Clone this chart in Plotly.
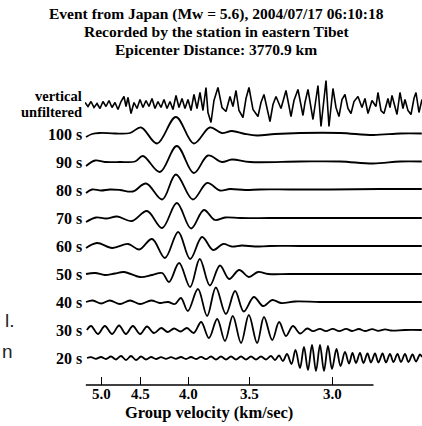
import plotly.graph_objects as go

# ---------------- data ----------------
DIST_KM = 3770.9
VEL_TICKS = [5.0, 4.5, 4.0, 3.5, 3.0]
VEL_TICK_TEXT = ["5.0", "4.5", "4.0", "3.5", "3.0"]
PERIOD_LABELS = ["100 s", "90 s", "80 s", "70 s", "60 s", "50 s", "40 s", "30 s", "20 s"]

# travel time (s) and relative amplitude
UNF_T = [717.8, 724.3, 730.9, 737.4, 744.0, 750.5, 757.0, 763.6, 770.1, 776.7, 783.2, 789.7, 796.3, 802.8, 807.2,
         811.5, 818.1, 824.6, 831.2, 837.7, 844.2, 850.8, 857.3, 863.9, 870.4, 876.9, 883.5, 890.0, 896.6, 903.1,
         909.6, 916.2, 922.7, 929.3, 935.8, 942.3, 948.9, 955.4, 962.0, 968.5, 975.0, 981.6, 985.9, 992.5, 999.0,
         1007.7, 1016.5, 1025.2, 1033.9, 1040.4, 1047.0, 1053.5, 1062.2, 1068.8, 1075.3, 1084.0, 1094.9, 1101.5,
         1108.0, 1114.6, 1121.1, 1127.6, 1134.2, 1145.1, 1149.4, 1156.0, 1166.9, 1173.4, 1182.1, 1193.0, 1197.4,
         1203.9, 1214.8, 1225.7, 1232.3, 1238.8, 1243.2, 1249.7, 1258.4, 1265.0, 1271.5, 1278.1, 1284.6, 1291.1,
         1297.7, 1304.2, 1312.9, 1321.7, 1328.2, 1334.7, 1343.5, 1352.2, 1356.5, 1363.1, 1369.6, 1378.3, 1382.7,
         1387.1, 1393.6, 1398.0, 1404.5, 1411.0, 1415.4, 1421.9, 1428.5, 1435.0, 1439.4, 1445.9, 1452.5]
UNF_A = [2, -2, 3, -3, 1, -4, 3, -2, 4, -3, 2, -5, 3, 8, -2, 7, -9, 2, -4, 5, -3, 4, -2, 6, -4, 3, -3, 5, -4, 3,
         -5, 9, -3, 6, -4, 5, -6, 10, -4, 12, -6, 17, -8, -18, 4, 17, -3, -7, 8, -2, 14, -6, -13, 6, 17, -5, -12,
         2, 10, -4, -17, 0, 8, -4, 3, 14, -12, 4, 15, -11, 2, 15, -15, 19, -22, 10, 24, -22, 16, -3, -12, 5, 10,
         -4, -9, 3, 8, -3, 6, -9, 4, -2, 12, -6, -9, 6, -3, 9, -4, -10, 12, -4, 5, -6, -10, 6, 12, -8, 5]

P100_T = [720, 733, 750, 783, 816, 840, 875, 916, 955, 990, 1016, 1038, 1067, 1093, 1132, 1187, 1274, 1346, 1405, 1452]
P100_A = [-3, 0, 1, 0.5, 1, 6.5, -9.5, 17, -9.5, 6.5, 1, 3, 0, -1.5, 0, 1, 1, -1, 0.5, 0.5]

P90_T = [720, 740, 761, 794, 827, 844, 881, 918, 955, 986, 1016, 1038, 1078, 1187, 1274, 1346, 1405, 1452]
P90_A = [-4, 1.5, 0, 0, 0.5, 6, -10, 16, -11, 6.5, 0, 2.5, 0, 0.5, 0.5, -1.5, 0.5, 0.5]

P80_T = [720, 733, 753, 772, 794, 822, 851, 886, 916, 953, 984, 1012, 1034, 1067, 1099, 1165, 1252, 1361, 1452]
P80_A = [-3, 0.5, -0.5, 0.5, 0, -1.5, 6.5, -9.5, 15.5, -9.5, 7, -0.5, 1, 0, 0.5, 0.5, 0.5, 1, 1]

P70_T = [720, 742, 764, 788, 820, 853, 886, 918, 949, 977, 1001, 1023, 1056, 1121, 1230, 1339, 1452]
P70_A = [-4, 0.5, -0.5, 1.5, -3, 7, -10, 15, -10.5, 8, -2, 0.5, 0, 0, 0, 0, 0]

P60_T = [720, 744, 777, 812, 836, 864, 892, 921, 947, 973, 997, 1019, 1038, 1060, 1088, 1121, 1187, 1296, 1452]
P60_A = [-2, 3, -2, 2, -3.5, 7, -12, 14, -13, 9, -4, 2, -0.5, 0.5, -0.5, 0, 0, 0, 0]

P50_T = [720, 740, 761, 783, 803, 838, 864, 886, 901, 923, 947, 968, 990, 1012, 1032, 1054, 1075, 1095, 1117,
         1165, 1274, 1452]
P50_A = [0, 1, -1, 0.5, 2, -3, -1, 1, -8, 11, -13, 15, -11.5, 8.5, -5, 4, -3, 2, 0, 0, 0, 0]

P40_T = [720, 735, 753, 772, 794, 816, 838, 862, 881, 899, 914, 927, 942, 964, 984, 1003, 1025, 1045, 1064,
         1086, 1106, 1126, 1145, 1176, 1230, 1317, 1452]
P40_A = [0, 1.5, -1.5, 1.5, -2, 1.5, -2, 1.5, -1, 0, -2, 4, -9, 13, -14, 14.5, -12, 11, -9.5, 5, -4, 2, -1,
         0.5, 0, 0, 0]

P30_T = [722, 731, 746, 761, 777, 792, 807, 822, 838, 853, 868, 884, 898, 912, 926, 940, 955, 971, 988, 1006,
         1023, 1040, 1058, 1075, 1093, 1108, 1126, 1141, 1156, 1171, 1187, 1202, 1215, 1230, 1243, 1258, 1272,
         1287, 1300, 1315, 1328, 1344, 1357, 1372, 1385, 1415, 1452]
P30_A = [0, 4, -4, 4, -4, 4.5, -4, 4, -4, 3.5, -3, 2, -2, 1.5, -1.5, 2, -3, 8, -8, 11, -11, 14, -13, 15, -13,
         13, -10, 8, -6, 4, -3.5, 1.5, -1.2, 1.2, -1.2, 1.2, -1.2, 1.2, -1, 1, -1, 0.8, -0.8, 0.6, -0.5, 0, 0]

P20_T = [722.2, 730.9, 741.8, 752.7, 763.6, 774.5, 785.4, 796.3, 807.2, 818.1, 829.0, 839.9, 850.8, 861.7,
         872.6, 883.5, 894.4, 905.3, 916.2, 927.1, 938.0, 948.9, 959.8, 970.7, 981.6, 992.5, 1003.4, 1014.3,
         1025.2, 1036.1, 1047.0, 1057.9, 1068.8, 1079.7, 1090.6, 1101.5, 1112.4, 1123.3, 1132.0, 1140.7, 1149.4,
         1158.2, 1168.0, 1176.7, 1186.5, 1195.2, 1203.9, 1212.7, 1221.4, 1230.1, 1238.8, 1247.5, 1256.3, 1266.1,
         1274.8, 1284.6, 1293.3, 1301.0, 1308.6, 1317.3, 1324.9, 1333.7, 1341.3, 1350.0, 1357.6, 1366.4, 1374.0,
         1382.7, 1390.3, 1399.1, 1406.7, 1415.4, 1423.0, 1431.8, 1439.4, 1448.1, 1452.5]
P20_A = [0, 0.8, -0.8, 1, -1, 1.5, -1.5, 2, -2, 2, -2, 1.5, -1.5, 1, -1, 0.8, -0.8, 0.8, -0.8, 1, -1,
         1, -1, 1.2, -1.2, 1.5, -1.5, 1.5, -1.5, 1.5, -1.5, 1.5, -1.5, 1.5, -1.5, 1.5, -1.5,
         2, -2, 2.5, -3, 4, -6, 8, -10, 11, -12, 13, -13, 13, -13, 12, -11, 9, -8, 6, -5.5,
         5, -5, 5, -5, 4.5, -4.5, 4.5, -4.5, 4.5, -4.5, 4, -4, 4, -4, 4, -4, 3.5, -3.5, 3.5, 1]

FILTERED = [(P100_T, P100_A), (P90_T, P90_A), (P80_T, P80_A), (P70_T, P70_A), (P60_T, P60_A),
            (P50_T, P50_A), (P40_T, P40_A), (P30_T, P30_A), (P20_T, P20_A)]

# ---------------- style / layout ----------------
W, H = 422, 426
ML, MR, MT, MB = 85, 0, 70, 41
PW, PH = W - ML - MR, H - MT - MB
SPACING = 28
UNF_GAP = 29.5
Y_RANGE = [-27, 288]
X_RANGE = [717.8, 1452.5]
AXIS_SPAN_VEL = (5.24, 2.80)
SERIF = "Liberation Serif, Times New Roman, serif"
SANS = "Liberation Sans, Arial, sans-serif"


def px_x(px):
    return (px - ML) / PW


def px_y(py):
    return (H - MB - py) / PH


def bold(size):
    return dict(family=SERIF, size=size, color="black", weight="bold")


n = len(FILTERED)
offsets = [(n - 1 - i) * SPACING for i in range(n)]
unf_offset = offsets[0] + UNF_GAP

fig = go.Figure()
fig.add_trace(go.Scatter(x=UNF_T, y=[a + unf_offset for a in UNF_A], mode="lines",
                         line=dict(color="black", width=1.6), hoverinfo="skip"))
for (t, a), off in zip(FILTERED, offsets):
    fig.add_trace(go.Scatter(x=t, y=[v + off for v in a], mode="lines",
                             line=dict(color="black", width=1.8, shape="spline", smoothing=1.0),
                             hoverinfo="skip"))

ann = []
for lab, off in zip(PERIOD_LABELS, offsets):
    ann.append(dict(text=lab, xref="paper", x=px_x(84), xanchor="right", yref="y", y=off, yanchor="middle",
                    showarrow=False, font=bold(16)))
ann.append(dict(text="vertical", xref="paper", x=px_x(84), xanchor="right", yref="paper", y=px_y(95.5),
                yanchor="middle", showarrow=False, font=bold(14.5)))
ann.append(dict(text="unfiltered", xref="paper", x=px_x(84), xanchor="right", yref="paper", y=px_y(112),
                yanchor="middle", showarrow=False, font=bold(14.5)))

titles = ["Event from Japan (Mw = 5.6), 2004/07/17 06:10:18",
          "Recorded by the station in eastern Tibet",
          "Epicenter Distance: 3770.9 km"]
for txt, py in zip(titles, [14, 31.5, 49]):
    ann.append(dict(text=txt, xref="paper", x=px_x(216), xanchor="center", yref="paper", y=px_y(py),
                    yanchor="middle", showarrow=False, font=bold(15.5)))

# velocity tick labels
for v, lab in zip(VEL_TICKS, VEL_TICK_TEXT):
    ann.append(dict(text=lab, xref="x", x=DIST_KM / v, xanchor="center", yref="paper", y=px_y(394.5),
                    yanchor="middle", showarrow=False, font=bold(15)))

ann.append(dict(text="Group velocity (km/sec)", xref="paper", x=px_x(209), xanchor="center", yref="paper",
                y=px_y(412), yanchor="middle", showarrow=False, font=bold(16.5)))

ann.append(dict(text="l.", xref="paper", x=px_x(3), xanchor="left", yref="paper", y=px_y(320),
                yanchor="middle", showarrow=False, font=dict(family=SANS, size=19, color="#222")))
ann.append(dict(text="n", xref="paper", x=px_x(0), xanchor="left", yref="paper", y=px_y(351),
                yanchor="middle", showarrow=False, font=dict(family=SANS, size=19, color="#222")))

fig.update_layout(
    width=W, height=H, margin=dict(l=ML, r=MR, t=MT, b=MB, pad=0),
    paper_bgcolor="white", plot_bgcolor="white", showlegend=False,
    annotations=ann,
    shapes=[dict(type="line", xref="x", yref="paper", x0=DIST_KM / AXIS_SPAN_VEL[0],
                 x1=DIST_KM / AXIS_SPAN_VEL[1], y0=0, y1=0, line=dict(color="black", width=1.3))],
    xaxis=dict(range=X_RANGE, tickvals=[DIST_KM / v for v in VEL_TICKS], showticklabels=False,
               ticks="inside", ticklen=8, tickwidth=1, tickcolor="black", showgrid=False, zeroline=False,
               showline=False),
    yaxis=dict(range=Y_RANGE, visible=False),
)

fig.write_html("out.html", config={"displayModeBar": False},
               post_script="document.body.style.margin='0';")
